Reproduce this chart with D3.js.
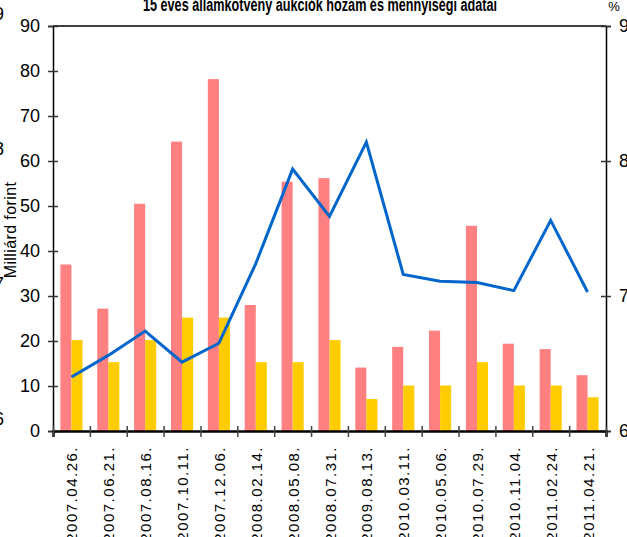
<!DOCTYPE html>
<html>
  <head>
    <meta charset="utf-8">
    <title>15 éves államkötvény aukciók</title>
    <script src="https://d3js.org/d3.v7.min.js"></script>
    <style>
      body { margin: 0; background: #fff; }
      svg { display: block; }
      .narrow { font-family: "Liberation Sans Narrow", "Arial Narrow", "Liberation Sans", sans-serif; }
    </style>
  </head>
  <body>
    <svg width="627" height="537"></svg>

    <script>
      // adatok
      var dates = ["2007.04.26.", "2007.06.21.", "2007.08.16.", "2007.10.11.", "2007.12.06.",
                   "2008.02.14.", "2008.05.08.", "2008.07.31.", "2009.08.13.", "2010.03.11.",
                   "2010.05.06.", "2010.07.29.", "2010.11.04.", "2011.02.24.", "2011.04.21."];
      var redBars    = [37, 27.2, 50.5, 64.3, 78.2, 28, 55.4, 56.2, 14.1, 18.7, 22.3, 45.6, 19.4, 18.2, 12.4];
      var yellowBars = [20.2, 15.3, 20.2, 25.2, 25.2, 15.3, 15.3, 20.2, 7.1, 10.1, 10.1, 15.3, 10.1, 10.1, 7.5];
      var yieldLine  = [6.40, 6.56, 6.74, 6.51, 6.65, 7.24, 7.94, 7.59, 8.14, 7.16, 7.11, 7.10, 7.04, 7.56, 7.03];
      var leftTicks  = [0, 10, 20, 30, 40, 50, 60, 70, 80, 90];
      var rightTicks = [6, 7, 8, 9];

      var svg = d3.select("svg");
      var plotLeft = 53, plotRight = 606, plotTop = 26, plotBottom = 431;

      // skálák
      var x = d3.scaleBand().domain(dates).range([plotLeft, plotRight])
        .paddingInner(0.4).paddingOuter(0.2);
      var xs = d3.scaleBand().domain(["r", "y"]).range([0, x.bandwidth()]);
      var xb = d3.scaleLinear().domain([0, dates.length]).range([plotLeft, plotRight]);
      var yL = d3.scaleLinear().domain([0, 90]).range([plotBottom, plotTop]);
      var yR = d3.scaleLinear().domain([6, 9]).range([plotBottom, plotTop]);

      // oszlopok
      svg.append("g").selectAll("rect").data(redBars).join("rect")
        .attr("x", function(d, i) { return x(dates[i]) + xs("r"); })
        .attr("y", function(d) { return yL(d); })
        .attr("width", xs.bandwidth())
        .attr("height", function(d) { return yL(0) - yL(d); })
        .attr("fill", "#ff8080");
      svg.append("g").selectAll("rect").data(yellowBars).join("rect")
        .attr("x", function(d, i) { return x(dates[i]) + xs("y"); })
        .attr("y", function(d) { return yL(d); })
        .attr("width", xs.bandwidth())
        .attr("height", function(d) { return yL(0) - yL(d); })
        .attr("fill", "#ffcc00");

      // hozam vonal
      var line = d3.line()
        .x(function(d, i) { return x(dates[i]) + x.bandwidth() / 2; })
        .y(function(d) { return yR(d); });
      svg.append("path").datum(yieldLine)
        .attr("d", line)
        .attr("fill", "none")
        .attr("stroke", "#0066cc")
        .attr("stroke-width", 3);

      // keret
      svg.append("line").attr("x1", plotLeft).attr("x2", plotRight).attr("y1", plotTop).attr("y2", plotTop)
        .attr("stroke", "#000").attr("stroke-width", 1.5);

      // bal tengely
      var gL = svg.append("g").attr("class", "narrow")
        .attr("transform", "translate(" + plotLeft + ",0)")
        .call(d3.axisLeft(yL).tickValues(leftTicks).tickSize(5).tickPadding(8));
      gL.select(".domain").attr("stroke", "#000").attr("stroke-width", 1.5);
      gL.selectAll(".tick line").attr("x2", -5).attr("x1", 5).attr("stroke", "#333").attr("stroke-width", 1.5);
      gL.selectAll(".tick text").attr("font-size", 18).attr("fill", "#000");
      gL.attr("font-family", null);

      // jobb tengely
      var gR = svg.append("g").attr("class", "narrow")
        .attr("transform", "translate(" + plotRight + ",0)")
        .call(d3.axisRight(yR).tickValues(rightTicks).tickSize(5).tickPadding(8));
      gR.select(".domain").attr("stroke", "#000").attr("stroke-width", 1.5);
      gR.selectAll(".tick line").attr("x1", -5).attr("x2", 5).attr("stroke", "#333").attr("stroke-width", 1.5);
      gR.selectAll(".tick text").attr("font-size", 18).attr("fill", "#000");
      gR.attr("font-family", null);

      // x tengely
      var gX = svg.append("g")
        .attr("transform", "translate(0," + plotBottom + ")")
        .call(d3.axisBottom(xb).tickValues(d3.range(dates.length + 1)).tickSize(6).tickFormat(""));
      gX.select(".domain").attr("stroke", "#000").attr("stroke-width", 2.5);
      gX.selectAll(".tick line").attr("y1", -5).attr("y2", 6).attr("stroke", "#444").attr("stroke-width", 1.5);

      svg.append("g").selectAll("text").data(dates).join("text")
        .attr("transform", function(d) {
          return "translate(" + (x(d) + x.bandwidth() / 2 + 6) + ",446) rotate(-90)";
        })
        .attr("text-anchor", "end")
        .attr("font-family", "'Liberation Sans', Arial, sans-serif")
        .attr("font-size", 15)
        .attr("letter-spacing", 1.5)
        .text(function(d) { return d; });

      // feliratok
      svg.append("text").attr("class", "narrow")
        .attr("x", 320).attr("y", 11)
        .attr("text-anchor", "middle")
        .attr("font-size", 18).attr("font-weight", "bold")
        .attr("textLength", 354).attr("lengthAdjust", "spacingAndGlyphs")
        .text("15 éves államkötvény aukciók hozam és mennyiségi adatai");
      svg.append("text").attr("class", "narrow")
        .attr("x", 614).attr("y", 11)
        .attr("text-anchor", "middle")
        .attr("font-size", 13)
        .text("%");
      svg.append("text")
        .attr("transform", "translate(16,230) rotate(-90)")
        .attr("text-anchor", "middle")
        .attr("font-family", "'Liberation Sans', Arial, sans-serif")
        .attr("font-size", 16)
        .attr("letter-spacing", 0.4)
        .text("Milliárd forint");

      // szomszédos ábra levágott számai a bal szélen
      svg.append("g").attr("class", "narrow").selectAll("text").data(["9", "8", "7", "6"]).join("text")
        .attr("x", -6)
        .attr("y", function(d) { return yR(+d) - 6; })
        .attr("font-size", 18)
        .text(function(d) { return d; });
    </script>
  </body>
</html>
